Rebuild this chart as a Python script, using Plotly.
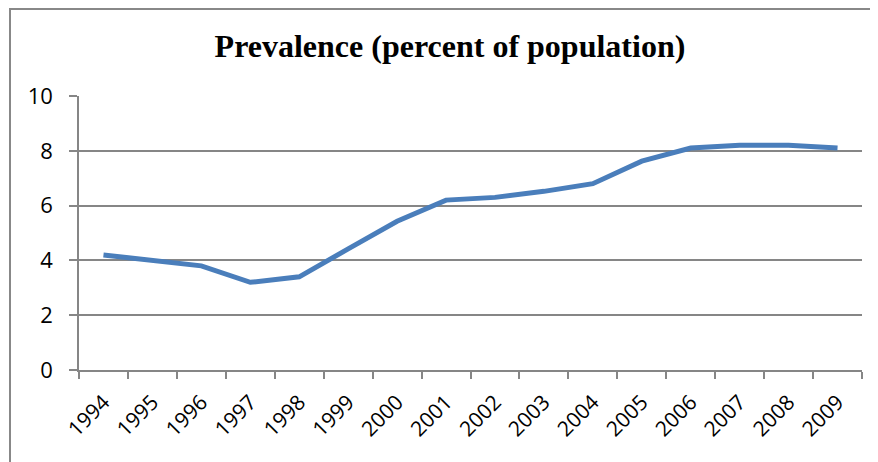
import plotly.graph_objects as go

years = ["1994", "1995", "1996", "1997", "1998", "1999", "2000", "2001",
         "2002", "2003", "2004", "2005", "2006", "2007", "2008", "2009"]
prevalence = [4.2, 4.0, 3.8, 3.2, 3.4, 4.42, 5.43, 6.2,
              6.3, 6.52, 6.8, 7.62, 8.1, 8.2, 8.2, 8.1]
y_ticks = [0, 2, 4, 6, 8, 10]

# page body has an 8px default margin, so the figure is sized to fit the window
W, H = 870, 454
ml, mr, mt, mb = 71, 16, 88, 92
pw, ph = W - ml - mr, H - mt - mb

fig = go.Figure()
fig.add_trace(go.Scatter(
    x=years, y=prevalence, mode="lines",
    line=dict(color="#4a7ebb", width=5), showlegend=False,
))

grid = "#868686"
fig.update_layout(
    width=W, height=H,
    margin=dict(l=ml, r=mr, t=mt, b=mb),
    paper_bgcolor="white", plot_bgcolor="white",
    title=dict(text="<b>Prevalence (percent of population)</b>",
               x=0.508, xanchor="center",
               y=1 - 38 / H, yanchor="middle", automargin=False,
               font=dict(family="Liberation Serif", size=32, color="black")),
    xaxis=dict(type="category", tickson="boundaries", ticks="outside",
               range=[-0.5, len(years) - 0.5], automargin=False,
               ticklen=7, tickcolor=grid, tickwidth=1.5,
               showline=True, linecolor=grid, linewidth=1.5,
               showgrid=False, tickangle=-45, ticklabelstandoff=10,
               tickfont=dict(family="Open Sans", size=21, color="black")),
    yaxis=dict(range=[0, 10], tickvals=y_ticks, ticks="outside",
               automargin=False, ticklabelstandoff=12,
               ticklen=8, tickcolor=grid, tickwidth=1.5,
               showline=True, linecolor=grid, linewidth=1.5,
               showgrid=True, gridcolor=grid, gridwidth=1.5,
               zeroline=False,
               tickfont=dict(family="Open Sans", size=22, color="black")),
)

# outer chart border (top and left edges visible)
fig.add_shape(type="rect", xref="paper", yref="paper",
              x0=(2 - ml) / pw, x1=(900 - ml) / pw,
              y0=(H - mb - 480) / ph, y1=(H - mb - 1) / ph,
              line=dict(color="#888888", width=2), layer="below")

fig.write_html("out.html")
